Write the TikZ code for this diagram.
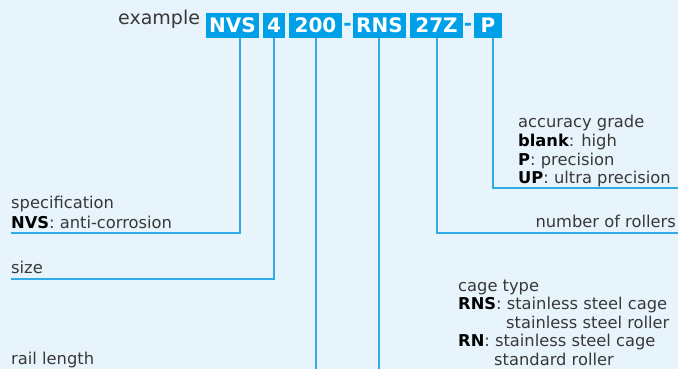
\documentclass[tikz,border=0pt]{standalone}
\usepackage{fontspec}
\setmainfont{DejaVu Sans}
\definecolor{bg}{HTML}{E8F4FC}
\definecolor{boxc}{HTML}{00A0E9}
\definecolor{ln}{HTML}{33AAE8}
\definecolor{tx}{HTML}{383838}
\newcommand{\bk}[1]{\textbf{\color{black}#1}}
\begin{document}
\begin{tikzpicture}[x=1pt,y=-1pt,
  cbox/.style={fill=boxc, text=white, font=\fontsize{20}{22}\selectfont\bfseries,
    inner sep=0pt, minimum height=25pt, text height=14.5pt, text depth=0pt, anchor=center},
  dashmark/.style={text=boxc, font=\fontsize{20}{22}\selectfont\bfseries, inner sep=0pt, anchor=base},
  ex/.style={text=tx, font=\fontsize{19}{21}\selectfont, inner sep=0pt, anchor=base west},
  lbl/.style={text=tx, font=\fontsize{16.3}{18}\selectfont, inner sep=0pt, anchor=base west},
  lblr/.style={lbl, anchor=base east},
  conn/.style={draw=ln, line width=1.4pt}
]
\fill[bg] (0,0) rectangle (678,369);
\useasboundingbox (0,0) rectangle (678,369);

% code
\node[ex] (example) at (118,25) {example};
\node[cbox, minimum width=53pt] (nvs) at (232.5,25.5) {NVS};
\node[cbox, minimum width=22pt] (four) at (274,25.5) {4};
\node[cbox, minimum width=53pt] (len) at (315.5,25.5) {200};
\node[dashmark] (d1) at (347.5,30.5) {-};
\node[cbox, minimum width=53pt] (rns) at (379.5,25.5) {RNS};
\node[cbox, minimum width=53pt] (z27) at (436.5,25.5) {27Z};
\node[dashmark] (d2) at (468,30.5) {-};
\node[cbox, minimum width=28pt] (p) at (488,25.5) {P};

% labels
\node[lbl] (acc1) at (518,128) {accuracy grade};
\node[lbl] (acc2) at (518,146.5) {\bk{blank}: high};
\node[lbl] (acc3) at (518,165) {\bk{P}: precision};
\node[lbl] (acc4) at (518,183.5) {\bk{UP}: ultra precision};
\node[lblr] (rol) at (676,227) {number of rollers};
\node[lbl] (spec1) at (11,208) {specification};
\node[lbl] (spec2) at (11,228) {\bk{NVS}: anti-corrosion};
\node[lbl] (size) at (11,273) {size};
\node[lbl] (cage1) at (458,291) {cage type};
\node[lbl] (cage2) at (458,309.5) {\bk{RNS}: stainless steel cage};
\node[lbl] (cage3) at (506,328) {stainless steel roller};
\node[lbl] (cage4) at (458,346.5) {\bk{RN}: stainless steel cage};
\node[lbl] (cage5) at (494,365) {standard roller};
\node[lbl] (rail) at (11,364) {rail length};

% connectors
\coordinate (kP) at (493,188);
\coordinate (eP) at (678,188);
\draw[conn] (p.south -| kP) -- (kP) -- (eP);

\coordinate (kZ) at (437,233);
\coordinate (eZ) at (678,233);
\draw[conn] (z27.south -| kZ) -- (kZ) -- (eZ);

\coordinate (kN) at (240,233);
\coordinate (eN) at (11,233);
\draw[conn] (nvs.south -| kN) -- (kN) -- (eN);

\coordinate (kF) at (274,279);
\coordinate (eF) at (11,279);
\draw[conn] (four.south -| kF) -- (kF) -- (eF);

\coordinate (eL) at (316,369);
\draw[conn] (len.south -| eL) -- (eL);

\coordinate (eR) at (379,369);
\draw[conn] (rns.south -| eR) -- (eR);
\end{tikzpicture}
\end{document}
